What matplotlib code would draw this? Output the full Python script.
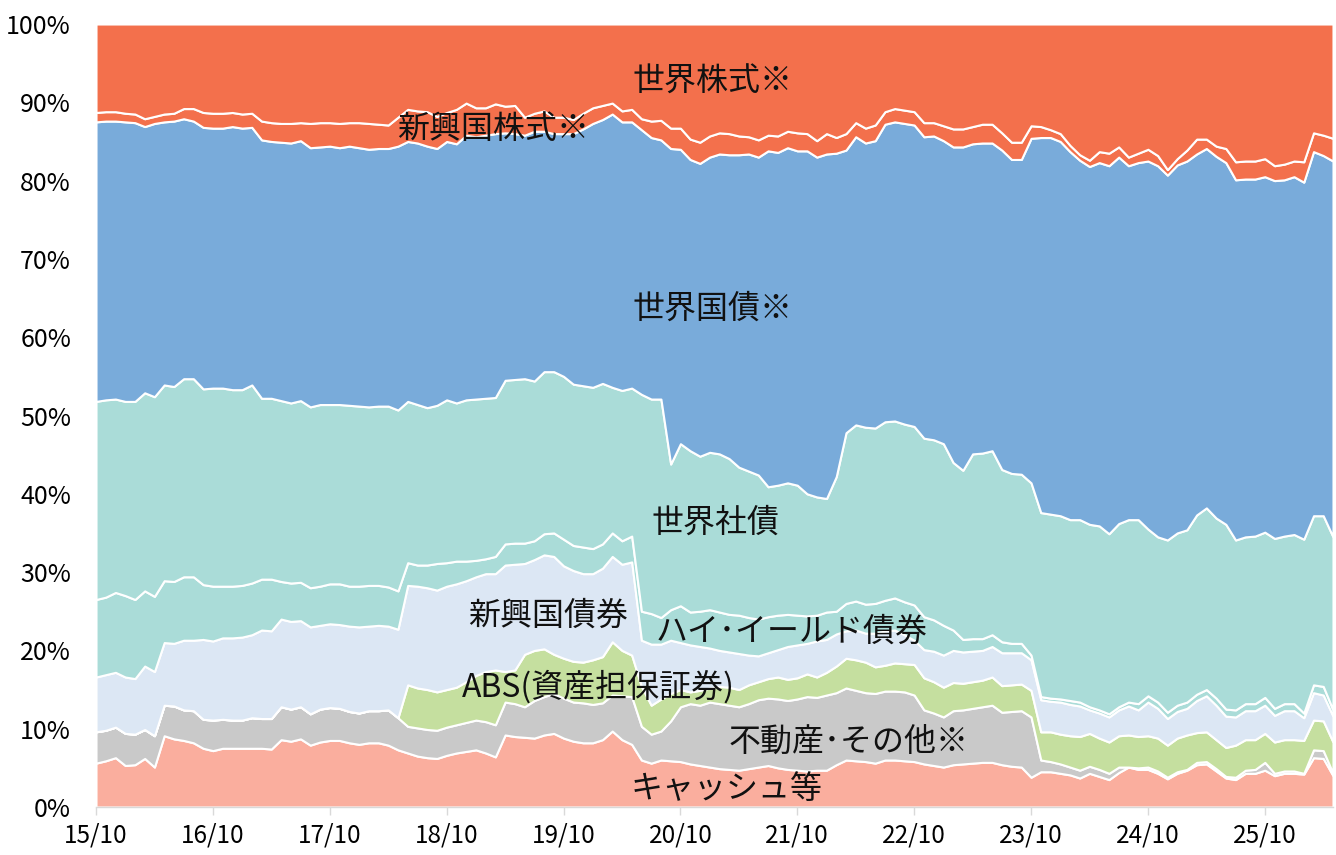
import numpy as np
import matplotlib
matplotlib.use("Agg")
from matplotlib import pyplot as plt

# asset allocation (% of portfolio), one value per month from 2015/10
cash = [5.6, 5.9, 6.3, 5.3, 5.4, 6.2, 5.1, 9.1, 8.7, 8.5, 8.2, 7.5, 7.2, 7.5, 7.5, 7.5,
        7.5, 7.5, 7.4, 8.6, 8.4, 8.7, 7.9, 8.3, 8.5, 8.5, 8.2, 8.0, 8.2, 8.2, 7.9, 7.3,
        6.9, 6.5, 6.3, 6.2, 6.6, 6.9, 7.1, 7.3, 6.9, 6.4, 9.2, 9.0, 8.9, 8.8, 9.2, 9.4,
        8.8, 8.4, 8.2, 8.2, 8.6, 9.7, 8.6, 8.0, 6.0, 5.6, 6.0, 5.9, 5.8, 5.5, 5.3, 5.1,
        4.9, 4.8, 4.7, 4.9, 5.1, 5.3, 5.0, 4.8, 4.7, 4.6, 4.7, 4.7, 5.4, 6.0, 5.9, 5.8,
        5.6, 6.0, 6.0, 5.9, 5.8, 5.5, 5.3, 5.1, 5.4, 5.5, 5.6, 5.7, 5.7, 5.4, 5.2, 5.1,
        3.8, 4.5, 4.5, 4.3, 4.1, 3.7, 4.3, 3.9, 3.5, 4.4, 5.1, 4.8, 4.8, 4.3, 3.6, 4.3,
        4.7, 5.4, 5.5, 4.6, 3.7, 3.5, 4.3, 4.3, 4.7, 4.0, 4.3, 4.3, 4.2, 6.3, 6.2, 4.0]
other = [4.0, 3.9, 3.9, 4.1, 3.9, 3.7, 4.0, 3.9, 4.2, 3.9, 4.1, 3.7, 3.9, 3.7, 3.6, 3.6,
         3.9, 3.8, 3.9, 4.2, 4.1, 4.1, 4.0, 4.2, 4.2, 4.1, 4.0, 4.0, 4.1, 4.1, 4.5, 4.1,
         3.4, 3.6, 3.6, 3.6, 3.6, 3.6, 3.7, 3.8, 4.0, 4.1, 4.2, 4.2, 3.9, 4.8, 4.9, 5.1,
         5.1, 5.0, 5.1, 4.9, 4.7, 4.6, 5.6, 6.1, 4.3, 3.7, 3.7, 5.1, 7.0, 7.7, 7.7, 8.3,
         8.3, 8.2, 8.1, 8.3, 8.6, 8.6, 8.8, 8.8, 9.1, 9.5, 9.3, 9.6, 9.2, 9.2, 9.0, 8.8,
         8.9, 8.8, 8.8, 8.8, 8.5, 6.9, 6.7, 6.4, 6.9, 6.9, 7.0, 7.1, 7.3, 6.7, 7.0, 7.2,
         7.7, 1.5, 1.3, 1.2, 1.0, 1.0, 0.9, 0.9, 0.8, 0.7, 0.0, 0.2, 0.3, 0.3, 0.2, 0.2,
         0.1, 0.3, 0.3, 0.3, 0.2, 0.3, 0.4, 0.5, 1.0, 0.3, 0.3, 0.3, 0.1, 1.0, 1.0, 0.3]
abs_sec = [0.0] * 32 + [
           5.3, 5.1, 5.1, 4.9, 4.8, 4.8, 5.2, 5.7, 6.4, 7.0, 3.9, 4.3, 6.7, 6.4, 6.1, 5.0,
           5.1, 5.2, 5.2, 5.7, 5.9, 6.8, 5.8, 5.3, 5.1, 3.7, 4.1, 3.5, 2.2, 1.5, 1.9, 1.8,
           2.2, 2.3, 2.2, 2.4, 2.3, 2.5, 2.8, 2.7, 2.7, 2.9, 2.6, 2.9, 3.4, 3.8, 3.9, 3.9,
           3.4, 3.3, 3.6, 3.6, 3.9, 4.1, 4.0, 3.8, 3.6, 3.4, 3.4, 3.4, 3.6, 3.4, 3.4, 3.4,
           3.4, 3.6, 3.8, 3.8, 4.0, 4.3, 4.2, 4.0, 4.0, 4.0, 4.1, 4.0, 4.0, 4.2, 4.1, 4.3,
           4.4, 3.8, 3.8, 3.7, 3.7, 4.1, 3.9, 3.8, 3.7, 4.0, 4.0, 4.0, 4.2, 3.8, 3.8, 4.0]
em_bond = [7.0, 7.1, 7.0, 7.2, 7.1, 8.1, 8.2, 8.0, 8.0, 8.9, 9.0, 10.2, 10.1, 10.4, 10.5, 10.6,
           10.6, 11.3, 11.2, 11.2, 11.2, 11.0, 11.1, 10.7, 10.7, 10.7, 10.9, 11.0, 10.8, 10.9, 10.7, 11.3,
           12.7, 13.0, 13.0, 13.0, 13.2, 13.2, 12.9, 12.6, 12.5, 12.3, 13.6, 13.5, 11.6, 11.6, 12.0, 12.5,
           11.8, 11.6, 11.3, 11.0, 11.3, 10.9, 11.0, 11.9, 5.9, 7.8, 7.0, 6.8, 6.0, 6.0, 5.6, 5.1,
           4.6, 4.5, 4.6, 3.8, 3.3, 3.3, 3.5, 4.2, 4.2, 3.9, 4.6, 4.2, 4.1, 3.5, 3.8, 3.7,
           4.3, 4.4, 4.2, 3.7, 3.1, 3.6, 3.9, 4.1, 4.1, 4.0, 3.9, 3.8, 3.9, 4.2, 4.1, 4.0,
           3.9, 4.1, 3.9, 4.1, 4.0, 3.9, 3.0, 3.2, 3.2, 3.3, 3.7, 3.4, 4.3, 3.8, 3.4, 3.4,
           3.4, 4.1, 4.6, 4.4, 4.0, 3.6, 3.7, 3.7, 3.6, 3.4, 3.7, 3.7, 2.9, 3.5, 3.3, 3.3]
high_yield = [9.9, 9.9, 10.2, 10.4, 10.1, 9.6, 9.6, 7.9, 7.9, 8.1, 8.1, 7.0, 7.0, 6.6, 6.6, 6.6,
              6.6, 6.5, 6.6, 4.8, 4.9, 4.9, 5.0, 5.0, 5.1, 5.2, 5.1, 5.2, 5.2, 5.1, 5.0, 4.9,
              2.9, 2.7, 2.9, 3.4, 3.0, 2.9, 2.5, 2.1, 1.9, 2.2, 2.7, 2.7, 2.6, 2.4, 2.7, 3.0,
              3.4, 3.2, 3.4, 3.2, 3.1, 3.0, 3.0, 3.3, 3.7, 3.9, 3.4, 3.9, 4.7, 4.2, 4.5, 4.9,
              4.9, 4.8, 4.9, 4.8, 4.7, 4.6, 4.4, 4.1, 3.8, 3.5, 3.3, 3.5, 2.9, 3.5, 3.7, 3.7,
              3.8, 3.9, 4.1, 4.2, 4.5, 4.2, 4.0, 3.8, 2.6, 1.6, 1.6, 1.5, 1.5, 1.4, 1.2, 1.2,
              0.6, 0.4, 0.4, 0.4, 0.5, 0.5, 0.4, 0.4, 0.4, 0.4, 0.5, 0.8, 0.8, 0.8, 0.8, 0.8,
              0.8, 0.8, 0.8, 0.9, 0.9, 0.9, 0.9, 0.9, 1.0, 0.9, 0.9, 0.9, 0.6, 1.0, 1.1, 0.8]
corp = [25.3, 25.2, 24.7, 24.8, 25.3, 25.3, 25.5, 25.0, 24.9, 25.3, 25.3, 25.0, 25.3, 25.3, 25.1, 25.0,
        25.3, 23.1, 23.1, 23.1, 23.0, 23.2, 23.1, 23.2, 22.9, 22.9, 23.1, 23.0, 22.8, 22.9, 23.1, 23.1,
        20.6, 20.5, 20.1, 20.2, 20.8, 20.2, 20.6, 20.6, 20.5, 20.3, 20.9, 20.9, 21.0, 20.4, 20.7, 20.6,
        20.8, 20.6, 20.6, 20.6, 20.5, 18.6, 19.2, 18.9, 27.7, 27.4, 27.9, 18.6, 20.7, 20.6, 19.8, 20.1,
        20.2, 19.9, 18.9, 18.7, 18.4, 16.6, 16.6, 16.8, 16.6, 15.6, 15.1, 14.5, 17.2, 21.8, 22.5, 22.6,
        22.4, 22.8, 22.6, 22.7, 22.8, 22.8, 23.0, 23.2, 21.4, 21.6, 23.6, 23.7, 23.5, 22.0, 21.7, 21.6,
        22.0, 23.5, 23.5, 23.4, 23.1, 23.3, 23.3, 23.5, 23.0, 23.4, 23.3, 23.5, 21.3, 21.1, 22.0, 22.0,
        22.0, 22.9, 23.2, 23.0, 23.6, 21.7, 21.3, 21.4, 21.1, 21.7, 21.4, 21.6, 22.2, 21.6, 21.8, 22.1]
govt = [35.7, 35.6, 35.5, 35.7, 35.6, 34.0, 34.9, 33.6, 33.9, 33.2, 32.9, 33.4, 33.2, 33.2, 33.6, 33.4,
        32.9, 33.0, 32.8, 33.0, 33.2, 33.2, 33.1, 32.9, 33.0, 32.8, 33.1, 33.0, 32.9, 32.9, 32.9, 33.7,
        33.2, 33.4, 33.4, 32.8, 33.0, 33.1, 33.8, 33.5, 33.6, 33.7, 31.6, 31.4, 31.1, 31.9, 30.7, 30.4,
        31.0, 32.0, 32.8, 33.7, 33.7, 34.9, 34.3, 34.0, 33.8, 33.4, 33.1, 40.3, 37.6, 37.2, 37.4, 37.7,
        38.3, 38.8, 39.9, 40.5, 40.6, 42.9, 42.5, 42.8, 42.7, 43.8, 43.4, 44.0, 41.3, 36.1, 36.8, 36.3,
        36.7, 38.0, 38.2, 38.4, 38.5, 38.5, 38.8, 38.7, 40.3, 41.3, 39.6, 39.6, 39.3, 40.8, 40.1, 40.2,
        44.0, 47.9, 48.1, 47.8, 47.0, 45.9, 45.7, 46.4, 47.0, 46.8, 45.2, 45.6, 47.0, 47.4, 46.6, 47.0,
        47.1, 46.1, 45.9, 46.2, 46.2, 46.0, 45.7, 45.6, 45.4, 45.7, 45.5, 45.7, 45.6, 46.5, 46.0, 48.0]
em_equity = [1.2, 1.2, 1.2, 1.1, 1.1, 1.0, 0.9, 1.0, 1.0, 1.3, 1.6, 1.9, 1.9, 1.9, 1.8, 1.8,
             1.8, 2.4, 2.4, 2.4, 2.5, 2.3, 3.1, 3.1, 3.0, 3.1, 3.0, 3.2, 3.3, 3.1, 3.0, 3.7,
             4.1, 4.1, 4.4, 4.1, 3.7, 4.4, 4.1, 3.7, 3.5, 3.8, 3.4, 3.6, 2.3, 2.3, 2.6, 2.1,
             2.1, 1.8, 2.0, 2.0, 1.8, 1.4, 1.4, 1.6, 1.4, 2.1, 2.5, 2.6, 2.7, 2.6, 2.7, 2.7,
             2.7, 2.7, 2.4, 2.2, 2.2, 2.0, 2.1, 2.1, 2.3, 2.2, 2.1, 2.6, 2.0, 2.1, 1.8, 1.9,
             2.0, 1.6, 1.7, 1.7, 1.7, 1.8, 1.7, 1.9, 2.3, 2.3, 2.2, 2.4, 2.4, 2.2, 2.2, 2.2,
             1.6, 1.4, 1.0, 1.0, 0.8, 0.7, 0.8, 1.4, 1.6, 1.3, 1.1, 1.2, 1.5, 1.3, 0.7, 0.8,
             1.4, 1.9, 1.2, 1.3, 1.8, 2.3, 2.3, 2.3, 2.3, 1.9, 2.0, 2.0, 2.6, 2.4, 2.6, 2.9]
world_equity = [11.3, 11.2, 11.2, 11.4, 11.5, 12.1, 11.8, 11.5, 11.4, 10.8, 10.8, 11.3, 11.4, 11.4, 11.3, 11.5,
                11.4, 12.4, 12.6, 12.7, 12.7, 12.6, 12.7, 12.6, 12.6, 12.7, 12.6, 12.6, 12.7, 12.8, 12.9, 11.9,
                10.9, 11.1, 11.2, 11.8, 11.3, 10.9, 10.1, 10.7, 10.7, 10.2, 10.5, 10.4, 11.9, 11.4, 11.1, 11.9,
                11.9, 12.2, 11.4, 10.7, 10.4, 10.1, 11.1, 10.9, 12.1, 12.4, 12.3, 13.3, 13.3, 14.7, 15.1, 14.3,
                13.9, 14.0, 14.3, 14.4, 14.8, 14.2, 14.3, 13.7, 13.9, 14.0, 14.9, 14.0, 14.5, 14.0, 12.6, 13.3,
                12.9, 11.2, 10.8, 11.0, 11.2, 12.6, 12.6, 13.0, 13.4, 13.4, 13.1, 12.8, 12.8, 13.9, 15.1, 15.1,
                13.0, 13.1, 13.5, 14.0, 15.5, 16.7, 17.4, 16.3, 16.5, 15.7, 17.0, 16.5, 16.0, 16.8, 18.6, 17.2,
                16.1, 14.7, 14.7, 15.6, 15.9, 17.6, 17.5, 17.5, 17.2, 18.1, 17.9, 17.5, 17.6, 13.9, 14.2, 14.6]

tick_labels = ["15/10", "16/10", "17/10", "18/10", "19/10", "20/10",
               "21/10", "22/10", "23/10", "24/10", "25/10"]

plt.rcParams['font.family'] = ['Noto Sans CJK JP', 'DejaVu Sans']

colors = ["#FAAE9E", "#C9C9C9", "#C5DF9F", "#DCE7F4", "#AADCD8",
          "#AADCD8", "#79ABDA", "#F3704C", "#F3704C"]

x = np.arange(len(cash))

fig = plt.figure(figsize=(13.36, 8.55), dpi=100)
ax = fig.add_axes([96 / 1336, 48 / 855, 1237 / 1336, 783 / 855])

ax.stackplot(x, cash, other, abs_sec, em_bond, high_yield, corp, govt,
             em_equity, world_equity, colors=colors,
             edgecolor="white", linewidth=1.5)

ax.set_xlim(0, len(x) - 1)
ax.set_ylim(0, 100)

ax.set_yticks(range(0, 101, 10))
ax.set_yticklabels(["{}%".format(v) for v in range(0, 101, 10)])
ax.set_xticks(range(0, 12 * len(tick_labels), 12))
ax.set_xticklabels(tick_labels)

ax.tick_params(axis="y", length=0, pad=18, labelsize=18)
ax.tick_params(axis="x", length=6, width=1, color="#D9D9D9", pad=5, labelsize=17.5)
for side in ["left", "right", "top"]:
    ax.spines[side].set_visible(False)
ax.spines["bottom"].set_color("#D9D9D9")
ax.spines["bottom"].set_linewidth(1)
ax.spines["bottom"].set_zorder(5)

# series labels placed inside their bands
labels = [
    ("世界株式※", 63.3, 92.6),
    ("新興国株式※", 40.8, 86.6),
    ("世界国債※", 63.3, 63.6),
    ("世界社債", 63.6, 36.3),
    ("新興国債券", 46.4, 24.4),
    ("ハイ･イールド債券", 71.4, 22.4),
    ("ABS(資産担保証券)", 51.6, 15.3),
    ("不動産･その他※", 77.3, 8.3),
    ("キャッシュ等", 64.7, 2.3),
]
for text, lx, ly in labels:
    ax.text(lx, ly, text, ha="center", va="center", fontsize=23, color="#111111")

fig.savefig("out.png", dpi=100)
